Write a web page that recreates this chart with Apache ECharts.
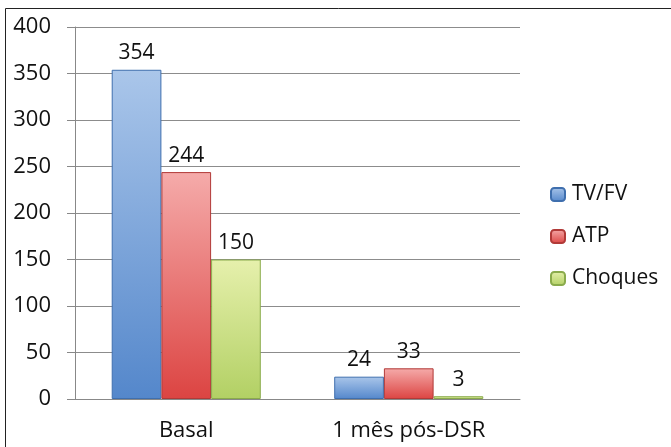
<!DOCTYPE html>
<html>
<head>
<meta charset="utf-8">
<script src="https://cdn.jsdelivr.net/npm/echarts@6/dist/echarts.min.js"></script>
<style>html,body{margin:0;padding:0;background:#fff}#c{width:671px;height:447px}</style>
</head>
<body>
<div id="c"></div>
<script>
var categories = ['Basal', '1 mês pós-DSR'];
var seriesNames = ['TV/FV', 'ATP', 'Choques'];
var tvfv = [354, 24];
var atp = [244, 33];
var choques = [150, 3];
var yTicks = {min: 0, max: 400, interval: 50};

function grad(top, bottom) {
  return new echarts.graphic.LinearGradient(0, 0, 0, 1, [
    {offset: 0, color: top}, {offset: 1, color: bottom}
  ]);
}
var styles = [
  {c: grad('#aac6ea', '#5487cb'), b: '#3f6fae'},
  {c: grad('#f5abaa', '#dc4442'), b: '#b13a38'},
  {c: grad('#e6f0ac', '#b2d064'), b: '#8aab4c'}
];
var dataSets = [tvfv, atp, choques];
var FONT = '"Open Sans", sans-serif';

var chart = echarts.init(document.getElementById('c'));
chart.setOption({
  animation: false,
  backgroundColor: '#fff',
  graphic: [{
    type: 'rect', shape: {x: 5.5, y: 8.5, width: 700, height: 500},
    style: {fill: 'none', stroke: '#222', lineWidth: 1}, z: -1
  }],
  grid: {left: 75, right: 151, top: 27, bottom: 48},
  legend: {
    orient: 'vertical', left: 545, top: 179,
    itemWidth: 14, itemHeight: 13, itemGap: 21,
    data: seriesNames,
    textStyle: {fontFamily: FONT, fontSize: 21, color: '#111', lineHeight: 20, padding: [0, 0, 0, 2]}
  },
  xAxis: {
    type: 'category', data: categories,
    axisLine: {lineStyle: {color: '#888'}},
    axisTick: {length: 7, lineStyle: {color: '#888'}},
    axisLabel: {fontFamily: FONT, fontSize: 22, color: '#111', margin: 21}
  },
  yAxis: {
    type: 'value', min: yTicks.min, max: yTicks.max, interval: yTicks.interval,
    axisLine: {show: true, lineStyle: {color: '#888'}},
    axisTick: {show: true, length: 8, lineStyle: {color: '#888'}},
    splitLine: {lineStyle: {color: '#8c8c8c'}},
    axisLabel: {fontFamily: FONT, fontSize: 22, color: '#111', margin: 24}
  },
  series: seriesNames.map(function (n, i) {
    return {
      name: n, type: 'bar', data: dataSets[i],
      barGap: '0%', barCategoryGap: '33%',
      itemStyle: {color: styles[i].c, borderColor: styles[i].b, borderWidth: 1},
      label: {show: true, position: 'top', distance: 6, fontFamily: FONT, fontSize: 21, color: '#111'}
    };
  })
});
</script>
</body>
</html>
